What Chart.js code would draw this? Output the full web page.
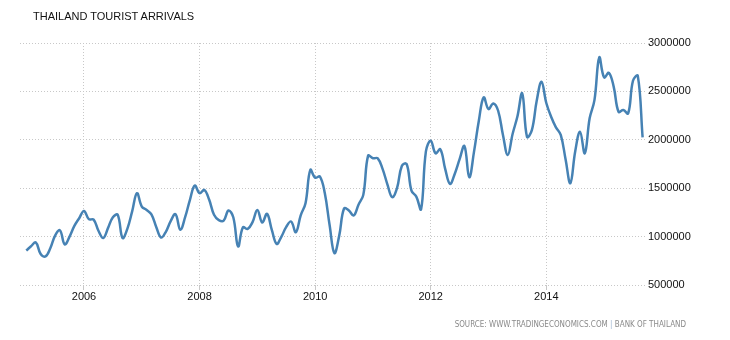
<!DOCTYPE html>
<html>
<head>
<meta charset="utf-8">
<script src="https://cdn.jsdelivr.net/npm/chart.js@4"></script>
<style>
  body { margin: 0; background: #fff; }
  #wrap { position: relative; width: 730px; height: 340px; }
  #title { position: absolute; left: 33px; top: 10px; font: 11px "Liberation Sans", Arial, sans-serif; color: #111; }
  #source { position: absolute; right: 44px; top: 320px; font: 8px "Liberation Sans Narrow", "DejaVu Sans Condensed", sans-serif; color: #8a8a8a; }
  #source span { color: #9db4d0; }
</style>
</head>
<body>
<div id="wrap">
  <canvas id="arrivals" width="730" height="340"></canvas>
  <div id="title">THAILAND TOURIST ARRIVALS</div>
  <div id="source">SOURCE: WWW.TRADINGECONOMICS.COM <span>|</span> BANK OF THAILAND</div>
</div>
<script>
// monthly arrivals, Jan 2005 .. Sep 2015
const startYear = 2005;
const arrivals = [
  856000, 900000, 940000, 820000, 795000, 880000, 1010000, 1065000, 920000, 1000000, 1110000, 1190000,
  1265000, 1180000, 1175000, 1060000, 985000, 1090000, 1200000, 1225000, 985000, 1080000, 1260000, 1448000,
  1310000, 1275000, 1230000, 1100000, 990000, 1050000, 1160000, 1232000, 1070000, 1200000, 1380000, 1527000,
  1448000, 1482000, 1380000, 1225000, 1170000, 1165000, 1270000, 1200000, 898000, 1095000, 1080000, 1150000,
  1276000, 1145000, 1235000, 1070000, 925000, 1000000, 1100000, 1156000, 1045000, 1220000, 1345000, 1689000,
  1609000, 1620000, 1450000, 1120000, 830000, 1010000, 1290000, 1270000, 1218000, 1330000, 1431000, 1836000,
  1809000, 1809000, 1700000, 1540000, 1407000, 1500000, 1730000, 1750000, 1475000, 1413000, 1283000, 1880000,
  1990000, 1861000, 1902000, 1700000, 1544000, 1650000, 1800000, 1936000, 1613000, 1880000, 2200000, 2438000,
  2318000, 2376000, 2300000, 2050000, 1843000, 2060000, 2240000, 2479000, 2030000, 2100000, 2400000, 2599000,
  2380000, 2238000, 2129000, 2050000, 1800000, 1552000, 1880000, 2084000, 1861000, 2222000, 2410000, 2851000,
  2644000, 2692000, 2547000, 2290000, 2307000, 2273000, 2610000, 2660000, 2026000
];
const yearTicks = [2006, 2008, 2010, 2012, 2014];
const valueTicks = [500000, 1000000, 1500000, 2000000, 2500000, 3000000];

const points = arrivals.map((v, i) => ({ x: startYear + i / 12, y: v }));
const tickFont = { family: "Liberation Sans, Arial, sans-serif", size: 11 };

new Chart(document.getElementById("arrivals"), {
  type: "line",
  data: {
    datasets: [{
      data: points,
      borderColor: "#4682b4",
      borderWidth: 2.5,
      pointRadius: 0,
      tension: 0.4,
      fill: false
    }]
  },
  options: {
    responsive: false,
    animation: false,
    layout: { padding: { left: 20, top: 43, right: 0, bottom: 0 } },
    plugins: { legend: { display: false }, tooltip: { enabled: false } },
    scales: {
      x: {
        type: "linear",
        min: 2004.8925,
        max: 2015.708,
        afterBuildTicks: s => { s.ticks = yearTicks.map(v => ({ value: v })); },
        afterFit: s => { s.height = 55; },
        grid: { color: "#c8c8c8", tickLength: 5, drawTicks: true },
        border: { display: false, dash: [1, 2] },
        ticks: { color: "#111", font: tickFont, padding: 0, maxRotation: 0, callback: v => String(v) }
      },
      y: {
        position: "right",
        min: 500000,
        max: 3000000,
        afterBuildTicks: s => { s.ticks = valueTicks.map(v => ({ value: v })); },
        afterFit: s => { s.width = 85; },
        grid: { color: "#c8c8c8", drawTicks: false },
        border: { display: false, dash: [1, 2] },
        ticks: { color: "#111", font: tickFont, padding: 3, callback: v => String(v) }
      }
    }
  }
});
</script>
</body>
</html>
